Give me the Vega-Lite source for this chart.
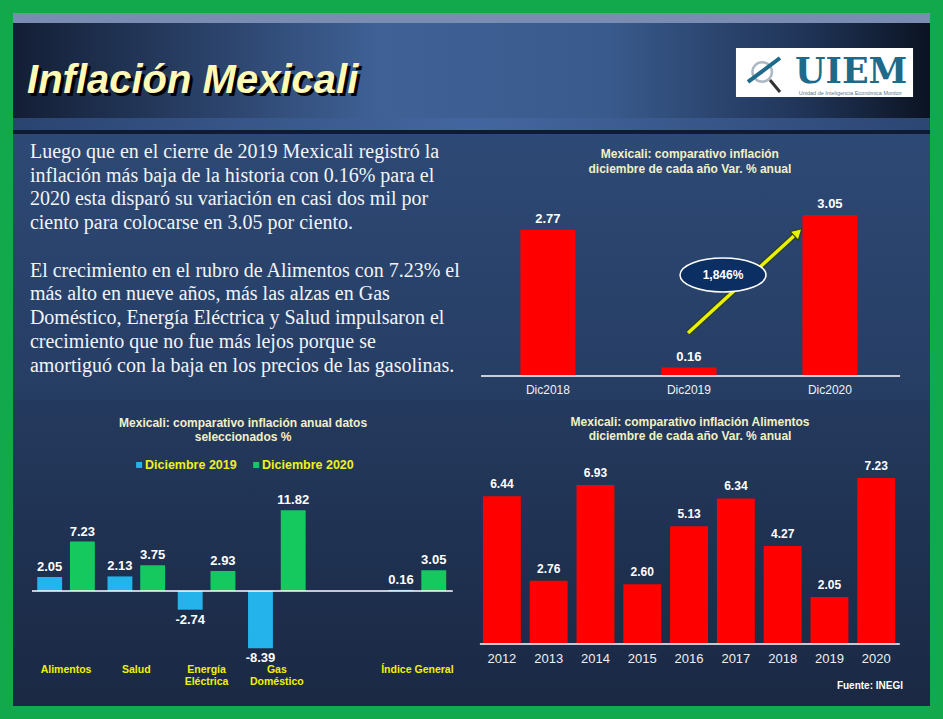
{
  "$schema": "https://vega.github.io/schema/vega-lite/v6.json",
  "background": "#12A84C",
  "padding": 13,
  "spacing": 0,
  "config": {"view": {"stroke": null}, "font": "Liberation Sans", "concat": {"spacing": 0}, "locale": {"number": {"decimal": ".", "thousands": ",", "grouping": [3], "currency": ["$", ""], "minus": "-"}}},
  "vconcat": [
    {
      "width": 917,
      "height": 121,
      "data": {"values": [{}]},
      "view": {"fill": "#1B2B48", "stroke": null},
      "layer": [
        {"mark": {"type": "rect", "fill": {"gradient": "linear", "x1": 0, "y1": 0, "x2": 1, "y2": 0, "stops": [{"offset": 0, "color": "#131E35"}, {"offset": 0.4, "color": "#3F6196"}, {"offset": 0.65, "color": "#395A8C"}, {"offset": 0.87, "color": "#1F3356"}, {"offset": 1, "color": "#0B1322"}]}}, "encoding": {}},
        {"mark": {"type": "rect", "fill": "#7B8CB3"}, "encoding": {"y": {"datum": 0, "scale": {"domain": [0, 100], "reverse": true, "nice": false, "zero": false}, "axis": null}, "y2": {"datum": 8.3}}},
        {"mark": {"type": "rect", "fill": {"gradient": "linear", "x1": 0, "y1": 0, "x2": 1, "y2": 0, "stops": [{"offset": 0, "color": "#2A4470"}, {"offset": 0.5, "color": "#4466A0"}, {"offset": 1, "color": "#2C4673"}]}}, "encoding": {"y": {"datum": 86.8}, "y2": {"datum": 96.7}}},
        {"mark": {"type": "rect", "fill": "#0F1B33"}, "encoding": {"y": {"datum": 96.7}, "y2": {"datum": 100}}},
        {"mark": {"type": "text", "align": "left", "baseline": "alphabetic", "font": "Liberation Sans", "fontSize": 40, "fontStyle": "italic", "fontWeight": "bold", "fill": "#000000", "dx": 3, "dy": 3}, "encoding": {"x": {"datum": 1.53, "scale": {"domain": [0, 100], "nice": false, "zero": false}, "axis": null}, "y": {"datum": 66.1}, "text": {"value": "Inflación Mexicali"}}},
        {"mark": {"type": "text", "align": "left", "baseline": "alphabetic", "font": "Liberation Sans", "fontSize": 40, "fontStyle": "italic", "fontWeight": "bold", "fill": "#FFF9B8"}, "encoding": {"x": {"datum": 1.53}, "y": {"datum": 66.1}, "text": {"value": "Inflación Mexicali"}}},
        {"mark": {"type": "rect", "fill": "#FFFFFF"}, "encoding": {"x": {"datum": 78.84}, "x2": {"datum": 98.15}, "y": {"datum": 28.9}, "y2": {"datum": 69.4}}},
        {"mark": {"type": "point", "shape": "circle", "filled": false, "stroke": "#8C9CAB", "strokeWidth": 2.5, "size": 380}, "encoding": {"x": {"datum": 81.7}, "y": {"datum": 48.8}}},
        {"mark": {"type": "rule", "stroke": "#333333", "strokeWidth": 3}, "encoding": {"x": {"datum": 82.55}, "x2": {"datum": 83.64}, "y": {"datum": 55.4}, "y2": {"datum": 65.3}}},
        {"mark": {"type": "rule", "stroke": "#1D6A8A", "strokeWidth": 4}, "encoding": {"x": {"datum": 80.15}, "x2": {"datum": 83.64}, "y": {"datum": 57}, "y2": {"datum": 37.2}}},
        {"mark": {"type": "text", "align": "center", "baseline": "alphabetic", "font": "DejaVu Serif", "fontSize": 35, "fontWeight": "bold", "fill": "#1D6A8A"}, "encoding": {"x": {"datum": 91.4}, "y": {"datum": 57.5}, "text": {"value": "UIEM"}}},
        {"mark": {"type": "text", "align": "center", "baseline": "alphabetic", "fontSize": 5.5, "fill": "#5A7A90"}, "encoding": {"x": {"datum": 91.3}, "y": {"datum": 68}, "text": {"value": "Unidad de Inteligencia Económica Monitor"}}}
      ]
    },
    {
      "spacing": 0,
      "hconcat": [
        {
          "width": 457,
          "height": 266,
          "view": {"fill": "#29426A", "stroke": null},
          "layer": [
            {"data": {"values": [{}]}, "mark": {"type": "rect", "fill": {"gradient": "linear", "x1": 0, "y1": 0, "x2": 0, "y2": 1, "stops": [{"offset": 0, "color": "#2D4975"}, {"offset": 1, "color": "#263D63"}]}}, "encoding": {}},
            {
              "data": {"values": [
                {"line": 1, "t": "Luego que en el cierre de 2019 Mexicali registró la"},
                {"line": 2, "t": "inflación más baja de la historia con 0.16%  para el"},
                {"line": 3, "t": "2020 esta disparó su variación en casi dos mil por"},
                {"line": 4, "t": "ciento para colocarse  en 3.05 por ciento."},
                {"line": 6, "t": "El  crecimiento en el rubro de Alimentos con 7.23% el"},
                {"line": 7, "t": "más alto en nueve años, más las alzas en Gas"},
                {"line": 8, "t": "Doméstico, Energía Eléctrica y Salud impulsaron el"},
                {"line": 9, "t": "crecimiento que no fue más lejos porque se"},
                {"line": 10, "t": "amortiguó con la baja en los precios de las gasolinas."}
              ]},
              "mark": {"type": "text", "align": "left", "baseline": "alphabetic", "font": "Liberation Serif", "fontSize": 20, "fill": "#F2F4F8"},
              "encoding": {
                "x": {"datum": 3.7, "scale": {"domain": [0, 100], "nice": false, "zero": false}, "axis": null},
                "y": {"field": "line", "type": "quantitative", "scale": {"domain": [0, 11.2], "reverse": true, "nice": false, "zero": false}, "axis": null},
                "text": {"field": "t"}
              }
            }
          ]
        },
        {
          "width": 460,
          "height": 266,
          "view": {"fill": "#29426A", "stroke": null},
          "resolve": {"scale": {"x": "independent"}},
          "layer": [
            {"data": {"values": [{}]}, "mark": {"type": "rect", "fill": {"gradient": "linear", "x1": 0, "y1": 0, "x2": 0, "y2": 1, "stops": [{"offset": 0, "color": "#2D4975"}, {"offset": 1, "color": "#263D63"}]}}, "encoding": {}},
            {
              "data": {"values": [{"p": "Dic2018", "v": 2.77}, {"p": "Dic2019", "v": 0.16}, {"p": "Dic2020", "v": 3.05}]},
              "encoding": {
                "x": {"field": "p", "type": "nominal", "scale": {"paddingInner": 0.61, "paddingOuter": 0.436, "align": 0.41}, "axis": null},
                "y": {"field": "v", "type": "quantitative", "scale": {"domain": [-0.4545, 4.583], "nice": false, "zero": false}, "axis": null}
              },
              "layer": [
                {"mark": {"type": "bar", "fill": "#FF0000"}},
                {"mark": {"type": "text", "baseline": "bottom", "dy": -4, "fill": "#FFFFFF", "fontWeight": "bold", "fontSize": 13}, "encoding": {"text": {"field": "v", "format": ".2f"}}},
                {"mark": {"type": "text", "baseline": "middle", "fill": "#EEF2FA", "fontSize": 12}, "encoding": {"y": {"datum": -0.265}, "text": {"field": "p"}}}
              ]
            },
            {
              "data": {"values": [{}]},
              "layer": [
                {"mark": {"type": "rule", "stroke": "#FFFFFF", "strokeWidth": 1.5}, "encoding": {"x": {"datum": 2.4, "scale": {"domain": [0, 100], "nice": false, "zero": false}, "axis": null}, "x2": {"datum": 93.5}, "y": {"datum": 0}}},
                {"mark": {"type": "rule", "stroke": "#2A3A12", "strokeWidth": 5.5}, "encoding": {"x": {"datum": 47.4}, "x2": {"datum": 70.65}, "y": {"datum": 0.814}, "y2": {"datum": 2.67}}},
                {"mark": {"type": "rule", "stroke": "#E8F200", "strokeWidth": 3.5}, "encoding": {"x": {"datum": 47.4}, "x2": {"datum": 70.65}, "y": {"datum": 0.814}, "y2": {"datum": 2.67}}},
                {"mark": {"type": "point", "shape": "triangle-up", "filled": true, "fill": "#E8F200", "stroke": "#2A3A12", "strokeWidth": 1, "size": 140, "angle": 47, "opacity": 1}, "encoding": {"x": {"datum": 71.3}, "y": {"datum": 2.72}}},
                {"mark": {"type": "point", "shape": "M -1 0 A 1 0.395 0 1 1 1 0 A 1 0.395 0 1 1 -1 0 Z", "filled": true, "fill": "#0C2F63", "stroke": "#FFFFFF", "strokeWidth": 1.5, "size": 7396, "opacity": 1}, "encoding": {"x": {"datum": 55}, "y": {"datum": 1.913}}},
                {"mark": {"type": "text", "fill": "#FFFFFF", "fontWeight": "bold", "fontSize": 12, "baseline": "middle"}, "encoding": {"x": {"datum": 55}, "y": {"datum": 1.913}, "text": {"value": "1,846%"}}},
                {"mark": {"type": "text", "fill": "#F3F0C4", "fontWeight": "bold", "fontSize": 12, "baseline": "top", "lineBreak": "\n", "lineHeight": 15}, "encoding": {"x": {"datum": 47.8}, "y": {"datum": 4.299}, "text": {"value": "Mexicali: comparativo inflación\ndiciembre de cada año Var. % anual"}}}
              ]
            }
          ]
        }
      ]
    },
    {
      "spacing": 0,
      "hconcat": [
        {
          "width": 452,
          "height": 306,
          "view": {"fill": "#1F3252", "stroke": null},
          "resolve": {"scale": {"x": "independent"}},
          "layer": [
            {"data": {"values": [{}]}, "mark": {"type": "rect", "fill": {"gradient": "linear", "x1": 0, "y1": 0, "x2": 0, "y2": 1, "stops": [{"offset": 0, "color": "#243A5E"}, {"offset": 1, "color": "#1A2843"}]}}, "encoding": {}},
            {
              "layer": [
                {
                  "data": {"values": [
                    {"c": "Alimentos", "s": "Diciembre 2019", "v": 2.05}, {"c": "Alimentos", "s": "Diciembre 2020", "v": 7.23},
                    {"c": "Salud", "s": "Diciembre 2019", "v": 2.13}, {"c": "Salud", "s": "Diciembre 2020", "v": 3.75},
                    {"c": "Energía Eléctrica", "s": "Diciembre 2019", "v": -2.74}, {"c": "Energía Eléctrica", "s": "Diciembre 2020", "v": 2.93},
                    {"c": "Gas Doméstico", "s": "Diciembre 2019", "v": -8.39}, {"c": "Gas Doméstico", "s": "Diciembre 2020", "v": 11.82},
                    {"c": "Índice General", "s": "Diciembre 2019", "v": 0.16}, {"c": "Índice General", "s": "Diciembre 2020", "v": 3.05}
                  ]},
                  "encoding": {
                    "x": {"field": "c", "type": "nominal", "scale": {"domain": ["Alimentos", "Salud", "Energía Eléctrica", "Gas Doméstico", " ", "Índice General"], "paddingInner": 0.18, "paddingOuter": 0.306, "align": 0.563}, "axis": null},
                    "xOffset": {"field": "s", "type": "nominal", "scale": {"paddingInner": 0.24, "paddingOuter": 0}},
                    "y": {"field": "v", "type": "quantitative", "scale": {"domain": [-16.84, 27.96], "nice": false, "zero": false}, "axis": null}
                  },
                  "layer": [
                    {"mark": {"type": "bar"}, "encoding": {"color": {"field": "s", "type": "nominal", "scale": {"domain": ["Diciembre 2019", "Diciembre 2020"], "range": ["#24B3EA", "#16C95F"]}, "legend": null}}},
                    {"transform": [{"filter": "datum.v >= 0"}], "mark": {"type": "text", "baseline": "bottom", "dy": -3, "fill": "#FFFFFF", "fontWeight": "bold", "fontSize": 13}, "encoding": {"text": {"field": "v", "format": ".2f"}}},
                    {"transform": [{"filter": "datum.v < 0"}], "mark": {"type": "text", "baseline": "top", "dy": 4, "fill": "#FFFFFF", "fontWeight": "bold", "fontSize": 13}, "encoding": {"text": {"field": "v", "format": ".2f"}}}
                  ]
                },
                {
                  "data": {"values": [
                    {"c": "Alimentos", "lab": "Alimentos"}, {"c": "Salud", "lab": "Salud"},
                    {"c": "Energía Eléctrica", "lab": "Energía\nEléctrica"}, {"c": "Gas Doméstico", "lab": "Gas\nDoméstico"},
                    {"c": "Índice General", "lab": "Índice General"}
                  ]},
                  "mark": {"type": "text", "baseline": "top", "lineBreak": "\n", "lineHeight": 12, "fill": "#F2F200", "fontWeight": "bold", "fontSize": 10.5},
                  "encoding": {
                    "x": {"field": "c", "type": "nominal", "scale": {"domain": ["Alimentos", "Salud", "Energía Eléctrica", "Gas Doméstico", " ", "Índice General"], "paddingInner": 0.18, "paddingOuter": 0.306, "align": 0.563}, "axis": null},
                    "y": {"datum": -10.83},
                    "text": {"field": "lab"}
                  }
                }
              ]
            },
            {
              "data": {"values": [{}]},
              "layer": [
                {"mark": {"type": "rule", "stroke": "#FFFFFF", "strokeWidth": 1.5}, "encoding": {"x": {"datum": 4.2, "scale": {"domain": [0, 100], "nice": false, "zero": false}, "axis": null}, "x2": {"datum": 97.3}, "y": {"datum": 0}}},
                {"mark": {"type": "text", "fill": "#F3F0C4", "fontWeight": "bold", "fontSize": 12, "baseline": "top", "lineBreak": "\n", "lineHeight": 14}, "encoding": {"x": {"datum": 50.9}, "y": {"datum": 25.33}, "text": {"value": "Mexicali: comparativo inflación anual datos\nseleccionados %"}}},
                {"mark": {"type": "point", "shape": "square", "filled": true, "fill": "#24B3EA", "size": 36, "opacity": 1}, "encoding": {"x": {"datum": 27.9}, "y": {"datum": 18.45}}},
                {"mark": {"type": "text", "align": "left", "baseline": "middle", "fill": "#F0F020", "fontWeight": "bold", "fontSize": 12.5}, "encoding": {"x": {"datum": 29.2}, "y": {"datum": 18.45}, "text": {"value": "Diciembre 2019"}}},
                {"mark": {"type": "point", "shape": "square", "filled": true, "fill": "#16C95F", "size": 36, "opacity": 1}, "encoding": {"x": {"datum": 53.8}, "y": {"datum": 18.45}}},
                {"mark": {"type": "text", "align": "left", "baseline": "middle", "fill": "#F0F020", "fontWeight": "bold", "fontSize": 12.5}, "encoding": {"x": {"datum": 55.1}, "y": {"datum": 18.45}, "text": {"value": "Diciembre 2020"}}}
              ]
            }
          ]
        },
        {
          "width": 465,
          "height": 306,
          "view": {"fill": "#1F3252", "stroke": null},
          "resolve": {"scale": {"x": "independent"}},
          "layer": [
            {"data": {"values": [{}]}, "mark": {"type": "rect", "fill": {"gradient": "linear", "x1": 0, "y1": 0, "x2": 0, "y2": 1, "stops": [{"offset": 0, "color": "#243A5E"}, {"offset": 1, "color": "#1A2843"}]}}, "encoding": {}},
            {
              "data": {"values": [
                {"y": "2012", "v": 6.44}, {"y": "2013", "v": 2.76}, {"y": "2014", "v": 6.93},
                {"y": "2015", "v": 2.60}, {"y": "2016", "v": 5.13}, {"y": "2017", "v": 6.34},
                {"y": "2018", "v": 4.27}, {"y": "2019", "v": 2.05}, {"y": "2020", "v": 7.23}
              ]},
              "encoding": {
                "x": {"field": "y", "type": "nominal", "scale": {"paddingInner": 0.19, "paddingOuter": 0.563, "align": 0.34}, "axis": null},
                "y": {"field": "v", "type": "quantitative", "scale": {"domain": [-2.70, 10.627], "nice": false, "zero": false}, "axis": null}
              },
              "layer": [
                {"mark": {"type": "bar", "fill": "#FF0000"}},
                {"mark": {"type": "text", "baseline": "bottom", "dy": -5, "fill": "#FFFFFF", "fontWeight": "bold", "fontSize": 12}, "encoding": {"text": {"field": "v", "format": ".2f"}}},
                {"mark": {"type": "text", "baseline": "middle", "fill": "#F0F0F0", "fontSize": 13}, "encoding": {"y": {"datum": -0.653}, "text": {"field": "y"}}}
              ]
            },
            {
              "data": {"values": [{}]},
              "layer": [
                {"mark": {"type": "rule", "stroke": "#FFFFFF", "strokeWidth": 1.5}, "encoding": {"x": {"datum": 3.2, "scale": {"domain": [0, 100], "nice": false, "zero": false}, "axis": null}, "x2": {"datum": 93.5}, "y": {"datum": 0}}},
                {"mark": {"type": "text", "fill": "#F3F0C4", "fontWeight": "bold", "fontSize": 12, "baseline": "top", "lineBreak": "\n", "lineHeight": 14}, "encoding": {"x": {"datum": 48.4}, "y": {"datum": 9.887}, "text": {"value": "Mexicali: comparativo inflación Alimentos\ndiciembre de cada año Var. % anual"}}},
                {"mark": {"type": "text", "align": "right", "baseline": "middle", "fill": "#FFFFFF", "fontWeight": "bold", "fontSize": 10}, "encoding": {"x": {"datum": 94.2}, "y": {"datum": -1.834}, "text": {"value": "Fuente: INEGI"}}}
              ]
            }
          ]
        }
      ]
    }
  ]
}
